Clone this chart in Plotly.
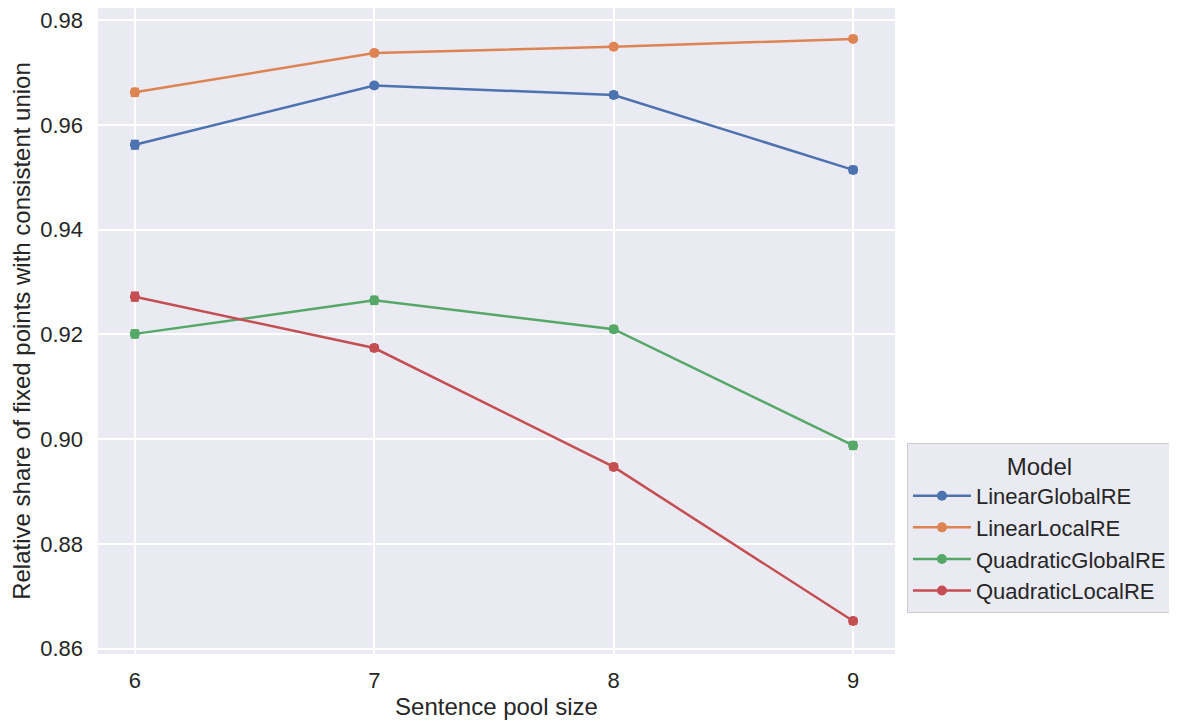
import plotly.graph_objects as go

pool_sizes = [6, 7, 8, 9]
models = ['LinearGlobalRE', 'LinearLocalRE', 'QuadraticGlobalRE', 'QuadraticLocalRE']
share_linear_global = [0.9562, 0.9675, 0.9657, 0.9514]
share_linear_local = [0.9662, 0.9737, 0.9749, 0.9764]
share_quadratic_global = [0.9201, 0.9265, 0.9210, 0.8988]
share_quadratic_local = [0.9272, 0.9174, 0.8947, 0.8653]
err_linear_global = [0.0008, 0.0005, 0.0006, 0.0006]
err_linear_local = [0.0007, 0.0005, 0.0004, 0.0004]
err_quadratic_global = [0.0007, 0.0007, 0.0006, 0.0007]
err_quadratic_local = [0.0008, 0.0006, 0.0006, 0.0006]

shares = [share_linear_global, share_linear_local, share_quadratic_global, share_quadratic_local]
errors = [err_linear_global, err_linear_local, err_quadratic_global, err_quadratic_local]
colors = ['#4C72B0', '#DD8452', '#55A868', '#C44E52']

fig = go.Figure()
for name, y, err, c in zip(models, shares, errors, colors):
    fig.add_trace(go.Scatter(
        x=pool_sizes, y=y, name=name, legendgroup=name, mode='lines+markers',
        line=dict(color=c, width=2.5),
        marker=dict(color=c, size=10),
        error_y=dict(type='data', array=err, color=c, thickness=1.8, width=4),
    ))

# the page body has an 8px margin, so the figure is shifted a bit up/left here
font = "Liberation Sans, Arial, sans-serif"
fig.update_layout(
    width=1177, height=723,
    margin=dict(l=90, r=290, t=0, b=77),
    paper_bgcolor='white', plot_bgcolor='#EAEAF2',
    font=dict(family=font, size=22, color='#262626'),
    legend=dict(
        title=dict(text='Model', side='top center', font=dict(size=24)),
        x=1.015, xanchor='left', y=0.327, yanchor='top',
        bgcolor='#EAEAF2', bordercolor='#CCCCCC', borderwidth=1,
        font=dict(size=22), tracegroupgap=0, itemwidth=58,
    ),
)
fig.update_xaxes(
    title=dict(text='Sentence pool size', font=dict(size=24), standoff=6),
    range=[5.846, 9.175], tickvals=pool_sizes,
    showgrid=True, gridcolor='white', gridwidth=1.5, zeroline=False,
    showline=False, ticks='', ticklabelstandoff=11, automargin=False,
    ticklabeloverflow='allow',
)
fig.update_yaxes(
    title=dict(text='Relative share of fixed points with consistent union', font=dict(size=24), standoff=7),
    range=[0.859, 0.9823], dtick=0.02, tickformat='.2f',
    showgrid=True, gridcolor='white', gridwidth=1.5, zeroline=False,
    showline=False, ticks='', ticklabelstandoff=14, automargin=False,
    ticklabeloverflow='allow',
)

fig.write_html("out.html")
